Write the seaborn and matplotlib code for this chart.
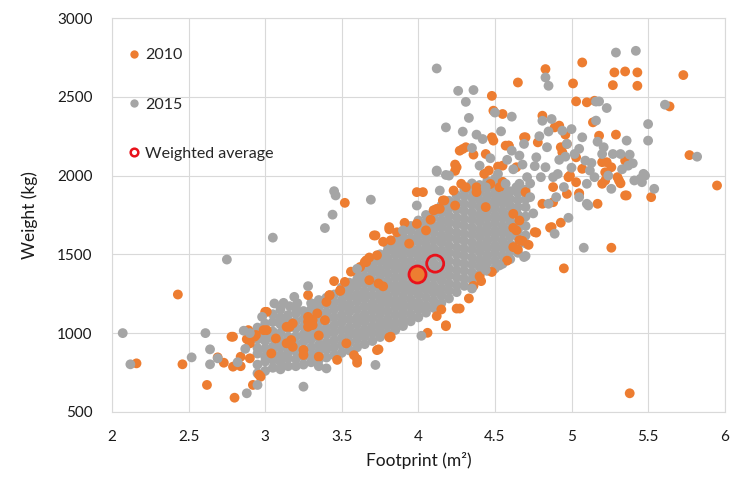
import matplotlib
matplotlib.use("Agg")
import matplotlib.pyplot as plt
from matplotlib.lines import Line2D
import seaborn as sns
import pandas as pd

# ---------------- data ----------------
# 2010 points (footprint m2, weight kg)
orange_x = [2.16, 2.43, 2.46, 2.62, 2.69, 2.73, 2.78, 2.79, 2.80, 2.84, 2.89, 2.88, 2.92, 2.97, 3.01, 3.14,
            3.18, 3.25, 3.28, 3.35, 3.31, 3.42, 3.49, 3.52, 3.65, 3.52, 3.60, 3.74, 3.81, 3.71, 3.81, 3.82,
            3.99, 4.03, 4.17, 4.12, 4.24, 4.31, 4.24, 4.24, 4.28, 4.29, 4.36, 4.48, 4.49, 4.55, 4.48, 4.65,
            4.69, 4.83, 5.01, 5.07, 5.28, 5.35, 5.43, 5.73, 5.27, 5.43, 5.03, 5.10, 5.15, 5.64, 5.14, 4.81,
            4.89, 4.92, 4.96, 5.29, 5.18, 4.70, 4.78, 4.97, 4.59, 4.93, 4.52, 4.64, 5.77, 5.95, 5.52, 5.35,
            5.17, 5.35, 5.30, 5.32, 5.22, 5.26, 5.20, 5.23, 5.07, 5.03, 5.20, 4.98, 4.97, 5.05, 5.03, 5.22,
            4.88, 4.81, 4.70, 4.44, 4.66, 4.62, 4.93, 4.86, 4.77, 4.68, 4.65, 5.26, 4.95, 5.38, 4.48, 4.33,
            4.27, 4.25, 4.12, 4.18, 4.06, 3.66, 3.49, 3.42,
            4.27, 4.31, 4.25, 4.43, 4.49, 4.57, 4.16, 4.10, 3.99, 3.81, 3.72, 3.94, 3.66, 3.73, 4.05, 4.38,
            4.53, 4.62, 4.64, 4.62, 4.55, 4.44,
            2.90, 2.94, 3.14, 3.17, 3.28, 3.34, 3.25, 3.00, 2.90, 3.01, 3.07, 3.18, 3.31, 3.28, 3.39, 3.35,
            3.60, 3.45, 3.56, 3.62, 3.68, 3.77, 3.86, 3.91, 4.36, 4.41, 4.58, 4.72, 4.40, 4.15, 3.58, 3.47,
            3.16, 3.28, 3.30, 2.99, 2.93, 3.04, 3.40, 3.68, 3.74, 3.77, 4.08, 4.18, 3.82, 3.73, 2.79, 2.84,
            2.96, 3.53, 4.46, 4.59, 4.94, 4.99, 5.23, 5.31, 5.36, 5.05, 4.88, 4.47, 4.38, 4.76, 4.87, 4.23,
            4.14, 4.55, 4.66]
orange_y = [808, 1245, 802, 671, 846, 812, 977, 787, 590, 790, 1019, 962, 671, 723, 1135, 935,
            913, 861, 1241, 850, 1082, 1241, 1268, 1325, 1451, 1827, 812, 897, 973, 1620, 1659, 1589,
            1895, 1895, 1842, 1789, 1810, 1926, 2070, 2030, 1948, 2169, 2133, 2243, 2412, 2391, 2506, 2591,
            2243, 2676, 2585, 2718, 2655, 2661, 2655, 2638, 2574, 2570, 2471, 2465, 2475, 2439, 2338, 2380,
            2306, 2317, 2260, 2260, 2253, 2243, 2211, 2201, 2190, 2180, 2057, 2053, 2130, 1937, 1863, 1874,
            1821, 2095, 1990, 1951, 2021, 2053, 2085, 2011, 2043, 2116, 1948, 1990, 1884, 1888, 1958, 1969,
            1927, 1821, 1895, 1800, 1715, 1668, 1701, 1669, 1638, 1585, 1530, 1542, 1411, 618, 1388, 1220,
            1156, 1156, 1108, 1044, 1002, 1451, 1272, 1240,
            2158, 2180, 2053, 2011, 2222, 2190, 1842, 1779, 1694, 1673, 1620, 1568, 1462, 1494, 1652, 1926,
            1926, 1757, 1652, 1546, 2063, 2137,
            935, 988, 1040, 956, 1072, 1125, 893, 1135, 840, 1019, 966, 1061, 1051, 1103, 1082, 985,
            835, 1330, 1390, 1420, 1480, 1580, 1640, 1700, 1300, 1330, 1460, 1560, 1360, 1150, 860, 830,
            1040, 1040, 1082, 1019, 977, 871, 1198, 1336, 1315, 1297, 1720, 1050, 977, 892, 977, 850,
            735, 935, 2032, 2190, 2148, 2000, 2085, 1969, 1874, 1884, 1831, 1947, 1895, 1641, 1673, 1905,
            1789, 1960, 1590]

# 2015 points: scattered ones
gray_x = [2.07, 2.12, 2.52, 2.61, 2.64, 2.64, 2.69, 2.75, 2.82, 2.88, 2.95, 2.86, 3.05, 3.25, 3.28, 3.06,
          3.12, 3.16, 2.98, 3.39, 3.44, 3.45, 3.46, 3.60, 3.69, 3.90, 3.99, 4.12, 4.26, 4.36, 4.31, 4.61,
          4.33, 4.18, 4.29, 4.38, 4.54, 4.50, 4.12, 4.18, 4.14, 4.12, 4.35, 4.42, 4.40, 4.20, 4.81, 4.87,
          4.94, 5.00, 4.85, 4.69, 4.61, 4.66, 4.52, 4.83, 4.85, 5.29, 5.42, 5.18, 5.23, 5.16, 5.16, 5.61,
          5.50, 5.50, 5.36, 5.82, 5.54, 5.45, 5.48, 5.47, 5.46, 5.40, 5.38, 5.27, 5.32, 5.37, 5.26, 5.41,
          4.97, 5.07, 5.17, 5.20, 5.02, 5.09, 5.12, 5.15, 5.10, 5.05, 5.10, 5.11, 4.95, 4.90, 4.88, 4.83,
          4.77, 4.80, 4.71, 4.73, 4.66, 4.57, 4.59, 4.85, 4.64, 4.44, 4.98, 4.89, 4.69, 5.08, 4.35, 4.53,
          4.44, 4.70, 4.02, 3.72, 3.40, 3.35, 4.84, 4.76, 4.92, 5.00, 5.13, 5.24, 4.75, 4.55, 4.62, 2.90,
          2.87, 3.21, 3.19, 4.58, 4.73, 4.91, 5.05, 5.21, 4.47, 4.79, 5.33, 4.68, 4.96]
gray_y = [1000, 802, 846, 1000, 897, 802, 840, 1467, 815, 618, 671, 1015, 1606, 660, 1298, 1188,
          1192, 1171, 1103, 1667, 1752, 1901, 1874, 1408, 1847, 1652, 1810, 2680, 2538, 2543, 2468, 2374,
          2366, 2306, 2279, 2260, 2281, 2400, 2025, 2004, 1905, 2032, 2175, 2232, 2063, 2000, 2348, 2359,
          2285, 2295, 2280, 2201, 2158, 2127, 2011, 2623, 2570, 2781, 2792, 2471, 2429, 2349, 2470, 2450,
          2327, 2222, 2222, 2120, 1916, 1980, 2000, 2011, 1958, 2078, 2133, 2137, 2137, 2063, 1916, 1969,
          2201, 2243, 2215, 2137, 2137, 2095, 2032, 1990, 1948, 1863, 1821, 1810, 1927, 1863, 1990, 2053,
          2116, 1990, 1990, 1863, 1948, 1948, 1863, 1821, 1926, 1926, 1732, 1631, 1483, 1542, 1283, 1430,
          1400, 1490, 983, 798, 776, 790, 2180, 2060, 2100, 2050, 2080, 2000, 1760, 1870, 2040, 1000,
          900, 1190, 1230, 2100, 1950, 2010, 2170, 2180, 2110, 2250, 2040, 2070, 2120]

# 2015 points: dense core, listed column by column (footprint, weights)
gray_core = [
    (2.95, [745, 800, 870, 905, 960, 1035]),
    (3.00, [760, 820, 850, 900, 950, 990, 1060]),
    (3.05, [780, 830, 880, 915, 970, 1010, 1070, 1120]),
    (3.10, [770, 815, 860, 910, 950, 1000, 1055, 1100, 1150]),
    (3.15, [790, 840, 880, 935, 975, 1030, 1080, 1115]),
    (3.20, [790, 835, 885, 930, 980, 1030, 1075, 1125, 1160]),
    (3.25, [800, 850, 895, 945, 990, 1040, 1090, 1140]),
    (3.30, [815, 860, 910, 960, 1005, 1055, 1100, 1150, 1190]),
    (3.35, [830, 880, 925, 975, 1020, 1070, 1120, 1165, 1210]),
    (3.40, [845, 895, 940, 990, 1035, 1085, 1130, 1180, 1225]),
    (3.45, [860, 910, 955, 1005, 1050, 1100, 1150, 1195, 1245]),
    (3.50, [875, 925, 970, 1020, 1070, 1115, 1165, 1210, 1260, 1290]),
    (3.55, [890, 940, 990, 1035, 1085, 1135, 1180, 1230, 1275, 1320]),
    (3.60, [910, 960, 1005, 1055, 1100, 1150, 1200, 1245, 1295, 1340, 1380]),
    (3.65, [930, 980, 1025, 1075, 1120, 1170, 1220, 1265, 1315, 1360, 1410]),
    (3.70, [950, 1000, 1045, 1095, 1145, 1190, 1240, 1290, 1335, 1385, 1430, 1470]),
    (3.75, [975, 1020, 1070, 1120, 1165, 1215, 1260, 1310, 1360, 1405, 1455, 1500]),
    (3.80, [995, 1045, 1090, 1140, 1190, 1235, 1285, 1330, 1380, 1430, 1475, 1525, 1560]),
    (3.85, [1020, 1065, 1115, 1165, 1210, 1260, 1305, 1355, 1405, 1450, 1500, 1545, 1590]),
    (3.90, [1045, 1090, 1140, 1185, 1235, 1285, 1330, 1380, 1425, 1475, 1520, 1570, 1615]),
    (3.95, [1075, 1120, 1170, 1215, 1265, 1310, 1360, 1410, 1455, 1505, 1550, 1600, 1650, 1680]),
    (4.00, [1100, 1150, 1195, 1245, 1290, 1340, 1390, 1435, 1485, 1530, 1580, 1625, 1675, 1715]),
    (4.05, [1130, 1175, 1225, 1275, 1320, 1370, 1415, 1465, 1515, 1560, 1610, 1655, 1705, 1750]),
    (4.10, [1160, 1205, 1255, 1300, 1350, 1400, 1445, 1495, 1540, 1590, 1640, 1685, 1735, 1780]),
    (4.15, [1190, 1240, 1285, 1335, 1380, 1430, 1480, 1525, 1575, 1620, 1670, 1715, 1765, 1810]),
    (4.20, [1220, 1270, 1315, 1365, 1410, 1460, 1510, 1555, 1605, 1650, 1700, 1745, 1795, 1840]),
    (4.25, [1260, 1305, 1355, 1400, 1450, 1500, 1545, 1595, 1640, 1690, 1735, 1785, 1830, 1875]),
    (4.30, [1300, 1345, 1395, 1440, 1490, 1535, 1585, 1630, 1680, 1725, 1775, 1820, 1870, 1910]),
    (4.35, [1340, 1385, 1435, 1480, 1530, 1575, 1625, 1670, 1720, 1765, 1815, 1860, 1905, 1950]),
    (4.40, [1370, 1420, 1465, 1515, 1560, 1610, 1655, 1705, 1750, 1800, 1845, 1895, 1940]),
    (4.45, [1395, 1445, 1490, 1540, 1585, 1635, 1680, 1730, 1775, 1825, 1870, 1920, 1965]),
    (4.50, [1410, 1460, 1510, 1555, 1605, 1650, 1700, 1745, 1795, 1840, 1890, 1935, 1980]),
    (4.55, [1440, 1490, 1540, 1585, 1635, 1680, 1730, 1775, 1825, 1870, 1920, 1960]),
    (4.60, [1470, 1520, 1565, 1615, 1660, 1710, 1755, 1805, 1850, 1900]),
    (4.65, [1510, 1560, 1610, 1655, 1700, 1750, 1800, 1845, 1890]),
    (4.70, [1570, 1620, 1680, 1740, 1800, 1850, 1910]),
]

# weighted averages (2010, 2015)
avg_x = [3.99, 4.11]
avg_y = [1378, 1441]

x_ticks = [2, 2.5, 3, 3.5, 4, 4.5, 5, 5.5, 6]
y_ticks = [500, 1000, 1500, 2000, 2500, 3000]

# ---------------- build table ----------------
# drawing order: dense 2015 core, then 2010, then scattered 2015 points
core_x, core_y = [], []
for cx, ys in gray_core:
    for yv in ys:
        core_x.append(cx)
        core_y.append(yv)

df = pd.DataFrame({
    "Footprint": core_x + orange_x + gray_x,
    "Weight": core_y + orange_y + gray_y,
    "Year": ["2015"] * len(core_x) + ["2010"] * len(orange_x) + ["2015"] * len(gray_x),
})

ORANGE = "#ED7D31"
GRAY = "#A5A5A5"
RED = "#E8121B"
TXT = "#1A1A1A"

sns.set_theme(style="white")
plt.rcParams["font.family"] = ["Lato", "DejaVu Sans"]

fig = plt.figure(figsize=(7.32, 4.88), dpi=100)
ax = fig.add_axes([0.153, 0.156, 0.837, 0.807])

sns.scatterplot(data=df, x="Footprint", y="Weight", hue="Year",
                palette={"2010": ORANGE, "2015": GRAY}, s=50, linewidth=0,
                legend=False, ax=ax, zorder=3)

ax.scatter(avg_x[:1], avg_y[:1], s=150, facecolor=ORANGE, edgecolor=RED, linewidth=2, zorder=5)
ax.scatter(avg_x[1:], avg_y[1:], s=150, facecolor="none", edgecolor=RED, linewidth=2, zorder=5)

ax.set_xlim(2, 6)
ax.set_ylim(500, 3000)
ax.set_xticks(x_ticks)
ax.set_yticks(y_ticks)
ax.set_xticklabels([f"{t:g}" for t in x_ticks])
ax.set_yticklabels([str(t) for t in y_ticks])
ax.grid(True, color="#D9D9D9", linewidth=0.8)
ax.set_axisbelow(True)
for sp in ax.spines.values():
    sp.set_color("#D9D9D9")
    sp.set_linewidth(0.8)
ax.tick_params(axis="y", length=0, labelsize=11, colors=TXT, pad=14)
ax.tick_params(axis="x", length=0, labelsize=11, colors=TXT, pad=13)
ax.set_xlabel("Footprint (m²)", fontsize=12.5, color=TXT, labelpad=6)
ax.set_ylabel("Weight (kg)", fontsize=12.5, color=TXT, labelpad=14)

handles = [
    Line2D([], [], marker="o", linestyle="", markersize=6, markerfacecolor=ORANGE, markeredgewidth=0),
    Line2D([], [], marker="o", linestyle="", markersize=6, markerfacecolor=GRAY, markeredgewidth=0),
    Line2D([], [], marker="o", linestyle="", markersize=5.5, markerfacecolor="white",
           markeredgecolor=RED, markeredgewidth=1.8),
]
ax.legend(handles, ["2010", "2015", "Weighted average"], loc="upper left",
          bbox_to_anchor=(0.0, 0.96), frameon=False, fontsize=11.5, labelspacing=2.2,
          handletextpad=0.15, handlelength=1.0)

fig.savefig("out.png", dpi=100)
